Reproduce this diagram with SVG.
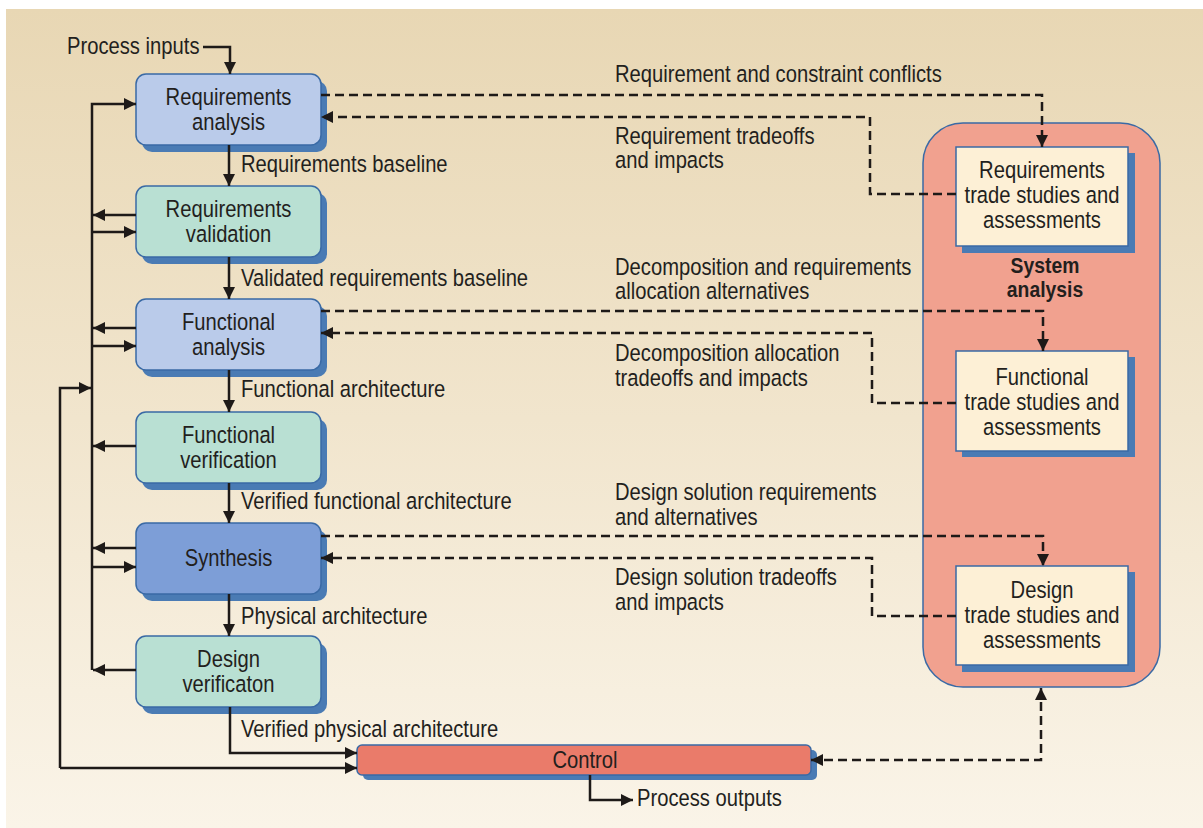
<svg xmlns="http://www.w3.org/2000/svg" width="1203" height="828" viewBox="0 0 1203 828">
<defs>
<linearGradient id="bg" x1="0" y1="0" x2="0" y2="1">
<stop offset="0" stop-color="#e8d7b4"/>
<stop offset="0.5" stop-color="#f1e5cd"/>
<stop offset="1" stop-color="#faf4e8"/>
</linearGradient>
<marker id="ah" viewBox="0 0 10 10" refX="10" refY="5" markerWidth="12" markerHeight="12" markerUnits="userSpaceOnUse" orient="auto-start-reverse">
<path d="M0,0 L10,5 L0,10 z" fill="#1e1a18" stroke="none"/>
</marker>
</defs>
<style>
.shadow{fill:#4a7bb4}
.face{stroke:#3a6aa5;stroke-width:1.5}
.ra{fill:#bacbea}
.rv{fill:#b9e0d3}
.sy{fill:#7d9ed7}
.ctl{fill:#ea7b6a}
.sys{fill:#f1a18f;stroke:#3a6aa5;stroke-width:1.5}
.tb{fill:#fdf0d6;stroke:#3a6aa5;stroke-width:1.5}
text{font-family:"Liberation Sans",Arial,sans-serif;font-size:23.5px;fill:#231f1d}
.c{text-anchor:middle}
.b{font-weight:bold;font-size:22.5px}
.ln{fill:none;stroke:#1e1a18;stroke-width:2.5}
.dl{fill:none;stroke:#1e1a18;stroke-width:2.5;stroke-dasharray:9 5}
</style>
<rect x="6" y="9" width="1197" height="819" fill="url(#bg)"/>

<g id="system-analysis">
<rect class="sys" x="923" y="123" width="237" height="564" rx="40"/>
<text class="c b" transform="translate(1045,273) scale(0.86,1)">System</text>
<text class="c b" transform="translate(1045,297) scale(0.86,1)">analysis</text>
</g>

<g id="req-trade">
<rect class="shadow" x="962" y="153" width="173" height="100"/>
<rect class="tb" x="956" y="147" width="172" height="99"/>
<text class="c" transform="translate(1042,178) scale(0.86,1)">Requirements</text>
<text class="c" transform="translate(1042,203) scale(0.86,1)">trade studies and</text>
<text class="c" transform="translate(1042,228) scale(0.86,1)">assessments</text>
</g>
<g id="func-trade">
<rect class="shadow" x="962" y="357" width="173" height="100"/>
<rect class="tb" x="956" y="351" width="172" height="100"/>
<text class="c" transform="translate(1042,385) scale(0.86,1)">Functional</text>
<text class="c" transform="translate(1042,410) scale(0.86,1)">trade studies and</text>
<text class="c" transform="translate(1042,435) scale(0.86,1)">assessments</text>
</g>
<g id="design-trade">
<rect class="shadow" x="962" y="572" width="173" height="100"/>
<rect class="tb" x="956" y="566" width="172" height="99"/>
<text class="c" transform="translate(1042,598) scale(0.86,1)">Design</text>
<text class="c" transform="translate(1042,623) scale(0.86,1)">trade studies and</text>
<text class="c" transform="translate(1042,648) scale(0.86,1)">assessments</text>
</g>

<g id="req-analysis">
<rect class="shadow" x="142" y="81" width="185" height="71" rx="10"/>
<rect class="face ra" x="136" y="74" width="185" height="71" rx="10"/>
<text class="c" transform="translate(228.5,105) scale(0.86,1)">Requirements</text>
<text class="c" transform="translate(228.5,130) scale(0.86,1)">analysis</text>
</g>
<g id="req-validation">
<rect class="shadow" x="142" y="193" width="185" height="71" rx="10"/>
<rect class="face rv" x="136" y="186" width="185" height="71" rx="10"/>
<text class="c" transform="translate(228.5,217) scale(0.86,1)">Requirements</text>
<text class="c" transform="translate(228.5,242) scale(0.86,1)">validation</text>
</g>
<g id="func-analysis">
<rect class="shadow" x="142" y="306" width="185" height="71" rx="10"/>
<rect class="face ra" x="136" y="299" width="185" height="71" rx="10"/>
<text class="c" transform="translate(228.5,330) scale(0.86,1)">Functional</text>
<text class="c" transform="translate(228.5,355) scale(0.86,1)">analysis</text>
</g>
<g id="func-verification">
<rect class="shadow" x="142" y="419" width="185" height="71" rx="10"/>
<rect class="face rv" x="136" y="412" width="185" height="71" rx="10"/>
<text class="c" transform="translate(228.5,443) scale(0.86,1)">Functional</text>
<text class="c" transform="translate(228.5,468) scale(0.86,1)">verification</text>
</g>
<g id="synthesis">
<rect class="shadow" x="142" y="530" width="185" height="71" rx="10"/>
<rect class="face sy" x="136" y="523" width="185" height="71" rx="10"/>
<text class="c" transform="translate(228.5,566) scale(0.86,1)">Synthesis</text>
</g>
<g id="design-verification">
<rect class="shadow" x="142" y="643" width="185" height="71" rx="10"/>
<rect class="face rv" x="136" y="636" width="185" height="71" rx="10"/>
<text class="c" transform="translate(228.5,667) scale(0.86,1)">Design</text>
<text class="c" transform="translate(228.5,692) scale(0.86,1)">verificaton</text>
</g>
<g id="control">
<rect class="shadow" x="363" y="750" width="454" height="30" rx="5"/>
<rect class="face ctl" x="357" y="745" width="454" height="30" rx="5"/>
<text class="c" transform="translate(585,768) scale(0.86,1)">Control</text>
</g>

<g id="connectors">
<path class="ln" d="M203,47 H230 V74" marker-end="url(#ah)"/>
<path class="ln" d="M229,145 V186" marker-end="url(#ah)"/>
<path class="ln" d="M229,257 V299" marker-end="url(#ah)"/>
<path class="ln" d="M229,370 V412" marker-end="url(#ah)"/>
<path class="ln" d="M229,483 V523" marker-end="url(#ah)"/>
<path class="ln" d="M229,594 V636" marker-end="url(#ah)"/>
<path class="ln" d="M230,707 V753 H357" marker-end="url(#ah)"/>
<path class="ln" d="M92,670 V104 H136" marker-end="url(#ah)"/>
<path class="ln" d="M136,215 H93" marker-end="url(#ah)"/>
<path class="ln" d="M92,232 H136" marker-end="url(#ah)"/>
<path class="ln" d="M136,328 H93" marker-end="url(#ah)"/>
<path class="ln" d="M92,346 H136" marker-end="url(#ah)"/>
<path class="ln" d="M136,446 H93" marker-end="url(#ah)"/>
<path class="ln" d="M136,548 H93" marker-end="url(#ah)"/>
<path class="ln" d="M92,567 H136" marker-end="url(#ah)"/>
<path class="ln" d="M136,670 H93" marker-end="url(#ah)"/>
<path class="ln" d="M60,768 V388 H91" marker-end="url(#ah)"/>
<path class="ln" d="M60,768 H357" marker-end="url(#ah)"/>
<path class="ln" d="M590,775 V800 H633" marker-end="url(#ah)"/>
<path class="dl" d="M1041,688 V760 H811" marker-start="url(#ah)" marker-end="url(#ah)"/>
<path class="dl" d="M321,95 H1042 V147" marker-end="url(#ah)"/>
<path class="dl" d="M956,194 H870 V117 H321" marker-end="url(#ah)"/>
<path class="dl" d="M321,311 H1043 V351" marker-end="url(#ah)"/>
<path class="dl" d="M956,403 H872 V333 H321" marker-end="url(#ah)"/>
<path class="dl" d="M321,536 H1043 V566" marker-end="url(#ah)"/>
<path class="dl" d="M956,616 H872 V558 H321" marker-end="url(#ah)"/>
</g>

<g id="labels">
<text transform="translate(67,54) scale(0.86,1)">Process inputs</text>
<text transform="translate(241,172) scale(0.86,1)">Requirements baseline</text>
<text transform="translate(241,286) scale(0.86,1)">Validated requirements baseline</text>
<text transform="translate(241,397) scale(0.86,1)">Functional architecture</text>
<text transform="translate(241,509) scale(0.86,1)">Verified functional architecture</text>
<text transform="translate(241,624) scale(0.86,1)">Physical architecture</text>
<text transform="translate(241,737) scale(0.86,1)">Verified physical architecture</text>
<text transform="translate(637,806) scale(0.86,1)">Process outputs</text>
<text transform="translate(615,82) scale(0.86,1)">Requirement and constraint conflicts</text>
<text transform="translate(615,144) scale(0.86,1)">Requirement tradeoffs</text>
<text transform="translate(615,168) scale(0.86,1)">and impacts</text>
<text transform="translate(615,275) scale(0.86,1)">Decomposition and requirements</text>
<text transform="translate(615,299) scale(0.86,1)">allocation alternatives</text>
<text transform="translate(615,361) scale(0.86,1)">Decomposition allocation</text>
<text transform="translate(615,386) scale(0.86,1)">tradeoffs and impacts</text>
<text transform="translate(615,500) scale(0.86,1)">Design solution requirements</text>
<text transform="translate(615,525) scale(0.86,1)">and alternatives</text>
<text transform="translate(615,585) scale(0.86,1)">Design solution tradeoffs</text>
<text transform="translate(615,610) scale(0.86,1)">and impacts</text>
</g>
</svg>
